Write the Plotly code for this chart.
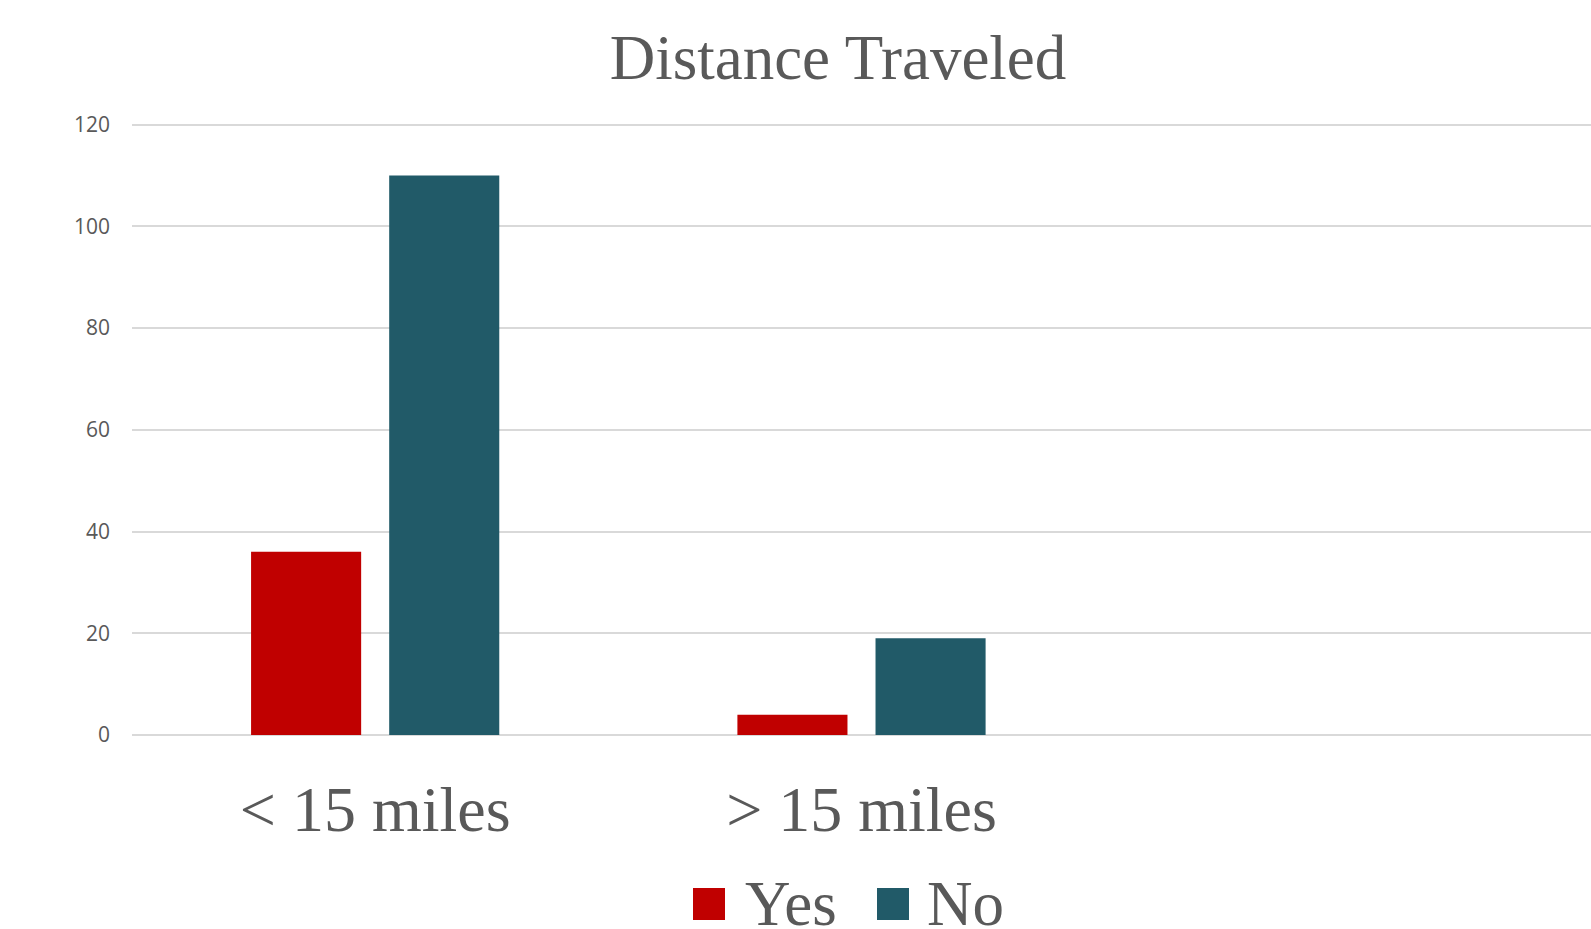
import plotly.graph_objects as go

# Survey counts by distance travelled
categories = ["< 15 miles", "> 15 miles"]
yes_counts = [36, 4]
no_counts = [110, 19]
series_names = ["Yes", "No"]
series_colors = ["#C00000", "#215A68"]
y_ticks = [0, 20, 40, 60, 80, 100, 120]

W, H = 1591, 929
M_L, M_R, M_T, M_B = 132, 0, 123, 194
PW, PH = W - M_L - M_R, H - M_T - M_B

GREY = "#595959"
SERIF = "Liberation Serif, Times New Roman, serif"


def px_to_paper(x, y):
    return (x - M_L) / PW, (H - M_B - y) / PH


fig = go.Figure()
for name, vals, color in zip(series_names, [yes_counts, no_counts], series_colors):
    fig.add_trace(go.Bar(
        x=categories, y=vals, name=name,
        marker=dict(color=color, line=dict(width=0)),
        showlegend=False,
    ))

# Legend: large square swatches with serif labels
legend_items = [(693, 743), (877, 925)]
shapes, annotations = [], []
for (sx, tx), name, color in zip(legend_items, series_names, series_colors):
    x0, y0 = px_to_paper(sx, 920)
    x1, y1 = px_to_paper(sx + 32, 888)
    shapes.append(dict(type="rect", xref="paper", yref="paper",
                       x0=x0, x1=x1, y0=y0, y1=y1,
                       fillcolor=color, line=dict(width=0)))
    ax, ay = px_to_paper(tx, 904)
    annotations.append(dict(text=name, xref="paper", yref="paper",
                            x=ax, y=ay, xanchor="left", yanchor="middle",
                            showarrow=False,
                            font=dict(family=SERIF, size=63, color=GREY)))

fig.update_layout(
    width=W, height=H,
    margin=dict(l=M_L, r=M_R, t=M_T, b=M_B, pad=0),
    paper_bgcolor="white", plot_bgcolor="white",
    barmode="group", bargap=0.432, bargroupgap=0.203,
    title=dict(text="Distance Traveled", x=838 / W, xref="container",
               xanchor="center", y=1 - 57 / H, yref="container", yanchor="middle",
               font=dict(family=SERIF, size=63, color=GREY)),
    xaxis=dict(type="category", range=[-0.5, 2.5],
               showgrid=False, showline=False, zeroline=False, ticks="",
               tickfont=dict(family=SERIF, size=64, color=GREY),
               ticklabelstandoff=31),
    yaxis=dict(range=[0, 120.3], tickvals=y_ticks,
               showgrid=True, gridcolor="#D9D9D9", gridwidth=1.5,
               zeroline=True, zerolinecolor="#D9D9D9", zerolinewidth=1.5,
               showline=False, ticks="",
               tickfont=dict(family="Open Sans", size=21, color=GREY),
               ticklabelstandoff=21),
    shapes=shapes, annotations=annotations,
)

fig.write_html("out.html")
